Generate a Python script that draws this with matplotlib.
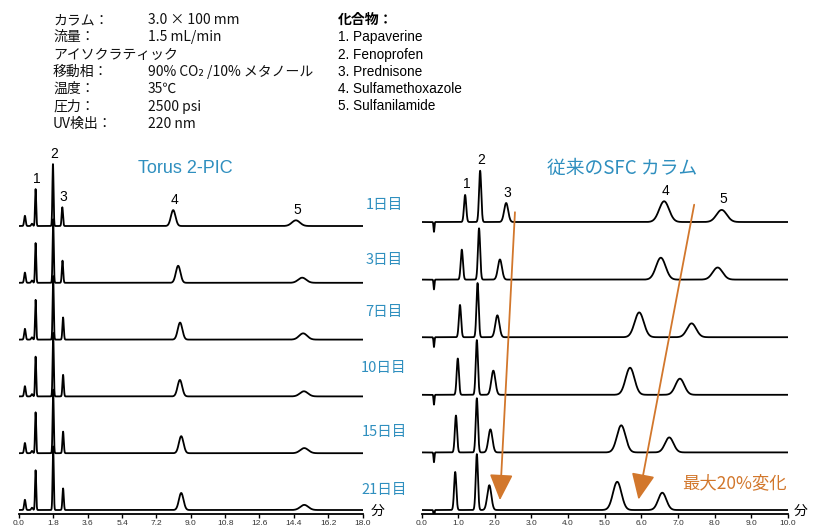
import numpy as np
import matplotlib
matplotlib.use('Agg')
import matplotlib.pyplot as plt

plt.rcParams['font.family'] = ['Noto Sans CJK JP', 'DejaVu Sans']

W, H = 815, 529
BLUE = '#2f8fbf'
ORANGE = '#d2772c'

days = ['1日目', '3日目', '7日目', '10日目', '15日目', '21日目']
peak_names = ['1', '2', '3', '4', '5']

# ---- Torus 2-PIC (left): peaks = [small, bump, 1, 2, 3, 4, 5]
torus_pos = [
    [0.31, 0.68, 0.87, 1.78, 2.27, 8.08, 14.51],
    [0.31, 0.68, 0.87, 1.79, 2.28, 8.34, 14.84],
    [0.31, 0.68, 0.87, 1.79, 2.31, 8.44, 14.89],
    [0.31, 0.68, 0.87, 1.79, 2.31, 8.43, 14.93],
    [0.31, 0.68, 0.87, 1.79, 2.31, 8.50, 14.95],
    [0.31, 0.68, 0.87, 1.79, 2.31, 8.50, 14.95],
]
torus_h = [
    [0.18, 0.04, 0.65, 1.09, 0.33, 0.28, 0.10],
    [0.18, 0.04, 0.70, 1.12, 0.39, 0.30, 0.09],
    [0.19, 0.04, 0.70, 1.12, 0.39, 0.30, 0.11],
    [0.18, 0.04, 0.70, 1.12, 0.38, 0.29, 0.09],
    [0.18, 0.04, 0.72, 1.12, 0.38, 0.30, 0.09],
    [0.18, 0.04, 0.70, 1.12, 0.38, 0.30, 0.09],
]
torus_w = [0.04, 0.04, 0.03, 0.03, 0.035, 0.12, 0.21]

# ---- Conventional SFC column (right): peaks = [dip, 1, 2, 3, 4, 5]
sfc_pos = [
    [0.34, 1.19, 1.60, 2.31, 6.62, 8.19],
    [0.34, 1.10, 1.57, 2.14, 6.53, 8.08],
    [0.34, 1.05, 1.53, 2.07, 5.94, 7.37],
    [0.34, 0.99, 1.51, 1.96, 5.69, 7.05],
    [0.34, 0.94, 1.51, 1.88, 5.45, 6.76],
    [0.34, 0.92, 1.51, 1.85, 5.34, 6.57],
]
sfc_h = [
    [-0.17, 0.47, 0.89, 0.33, 0.36, 0.21],
    [-0.17, 0.52, 0.89, 0.35, 0.38, 0.21],
    [-0.17, 0.56, 0.94, 0.38, 0.43, 0.24],
    [-0.17, 0.63, 0.95, 0.42, 0.47, 0.28],
    [-0.17, 0.64, 0.94, 0.40, 0.47, 0.26],
    [-0.17, 0.66, 0.97, 0.43, 0.49, 0.30],
]
sfc_w = [
    [0.012, 0.03, 0.03, 0.055, 0.135, 0.14],
    [0.012, 0.03, 0.03, 0.055, 0.13, 0.135],
    [0.012, 0.03, 0.03, 0.055, 0.125, 0.125],
    [0.012, 0.03, 0.03, 0.055, 0.12, 0.12],
    [0.012, 0.03, 0.03, 0.055, 0.117, 0.115],
    [0.012, 0.03, 0.03, 0.055, 0.115, 0.11],
]

left_ticks = [0.0, 1.8, 3.6, 5.4, 7.2, 9.0, 10.8, 12.6, 14.4, 16.2, 18.0]
right_ticks = [0.0, 1.0, 2.0, 3.0, 4.0, 5.0, 6.0, 7.0, 8.0, 9.0, 10.0]

cond_labels = ['カラム：', '流量：', 'アイソクラティック', '移動相：', '温度：', '圧力：', 'UV検出：']
cond_values = ['3.0 × 100 mm', '1.5 mL/min', '', '90% CO₂ /10% メタノール', '35℃', '2500 psi', '220 nm']
compounds = ['1. Papaverine', '2. Fenoprofen', '3. Prednisone',
             '4. Sulfamethoxazole', '5. Sulfanilamide']


def trace(x, pos, h, w):
    y = np.zeros_like(x)
    for p, a, s in zip(pos, h, w):
        y += a * np.exp(-0.5 * ((x - p) / s) ** 2)
    return y


fig = plt.figure(figsize=(W / 100, H / 100), dpi=100)

# layout (pixels)
ax_bottom_px, ax_top_px = 514, 140
L_x0, L_x1 = 19, 362.5
R_x0, R_x1 = 421.5, 788
L_base, L_step = 510, 56.8
R_base, R_step = 510, 57.6

axL = fig.add_axes([L_x0 / W, 1 - ax_bottom_px / H, (L_x1 - L_x0) / W, (ax_bottom_px - ax_top_px) / H])
axR = fig.add_axes([R_x0 / W, 1 - ax_bottom_px / H, (R_x1 - R_x0) / W, (ax_bottom_px - ax_top_px) / H])
axL.set_xlim(0, 18)
axL.set_ylim(-(ax_bottom_px - L_base) / L_step, (L_base - ax_top_px) / L_step)
axR.set_xlim(0, 10)
axR.set_ylim(-(ax_bottom_px - R_base) / R_step, (R_base - ax_top_px) / R_step)

xl = np.linspace(0, 18, 6000)
xr = np.linspace(0, 10, 5000)
n = len(days)
for i in range(n):
    off = n - 1 - i
    axL.plot(xl, off + trace(xl, torus_pos[i], torus_h[i], torus_w), color='black', lw=1.3)
    axR.plot(xr, off + trace(xr, sfc_pos[i], sfc_h[i], sfc_w[i]), color='black', lw=1.3)

# peak number labels on first-day traces
for k, name in enumerate(peak_names):
    p = torus_pos[0][k + 2]
    axL.annotate(name, (p, n - 1 + torus_h[0][k + 2]), xytext=(1, 2.5), textcoords='offset points',
                 ha='center', va='bottom', fontsize=10, family=['Liberation Sans', 'DejaVu Sans'])
    p = sfc_pos[0][k + 1]
    axR.annotate(name, (p, n - 1 + sfc_h[0][k + 1]), xytext=(1, 2.5), textcoords='offset points',
                 ha='center', va='bottom', fontsize=10, family=['Liberation Sans', 'DejaVu Sans'])

for ax, ticks in ((axL, left_ticks), (axR, right_ticks)):
    for s in ('top', 'left', 'right'):
        ax.spines[s].set_visible(False)
    ax.spines['bottom'].set_linewidth(1.3)
    ax.set_yticks([])
    ax.set_xticks(ticks)
    ax.set_xticklabels(['%.1f' % t for t in ticks], fontsize=6, color='#333333',
                       family=['Liberation Sans', 'DejaVu Sans'])
    ax.tick_params(axis='x', direction='out', length=3, width=1.0, pad=1)
    ax.patch.set_alpha(0)

# orange arrows (right panel)
arrows = [((2.55, 5.17), (2.14, 0.17)), ((7.44, 5.30), (5.92, 0.18))]
for (x0, y0), (x1, y1) in arrows:
    axR.annotate('', xy=(x1, y1), xytext=(x0, y0),
                 arrowprops=dict(arrowstyle='-|>,head_length=0.8,head_width=0.36',
                                 color=ORANGE, lw=1.3, shrinkA=0, shrinkB=0, mutation_scale=20))


def ftext(x, y, s, **kw):
    fig.text(x / W, 1 - y / H, s, **kw)


ftext(734, 483, '最大20%変化', color=ORANGE, fontsize=12.5, ha='center', va='center')

# titles
ftext(185, 169, 'Torus 2-PIC', color=BLUE, fontsize=13, ha='center', va='center',
      family=['Liberation Sans', 'DejaVu Sans'])
ftext(622, 168, '従来のSFC カラム', color=BLUE, fontsize=13.5, ha='center', va='center')

# day labels
day_y = [205, 260, 312, 368, 432, 490]
for d, yy in zip(days, day_y):
    ftext(384, yy, d, color=BLUE, fontsize=10.5, ha='center', va='center')

# minute labels
ftext(378, 511, '分', fontsize=10, ha='center', va='center')
ftext(801, 511, '分', fontsize=10, ha='center', va='center')

# conditions block
row_y = [20, 37.3, 54.6, 72, 89, 106.5, 124]
for lab, val, yy in zip(cond_labels, cond_values, row_y):
    ftext(53, yy, lab, fontsize=10, ha='left', va='center', color='#111111')
    if val:
        ftext(148, yy, val, fontsize=10, ha='left', va='center', color='#111111')

ftext(338, 20, '化合物：', fontsize=10, fontweight='bold', ha='left', va='center')
for c, yy in zip(compounds, row_y[1:]):
    ftext(338, yy, c, fontsize=9.8, ha='left', va='center', family=['Liberation Sans', 'DejaVu Sans'])

fig.savefig('out.png', dpi=100)
